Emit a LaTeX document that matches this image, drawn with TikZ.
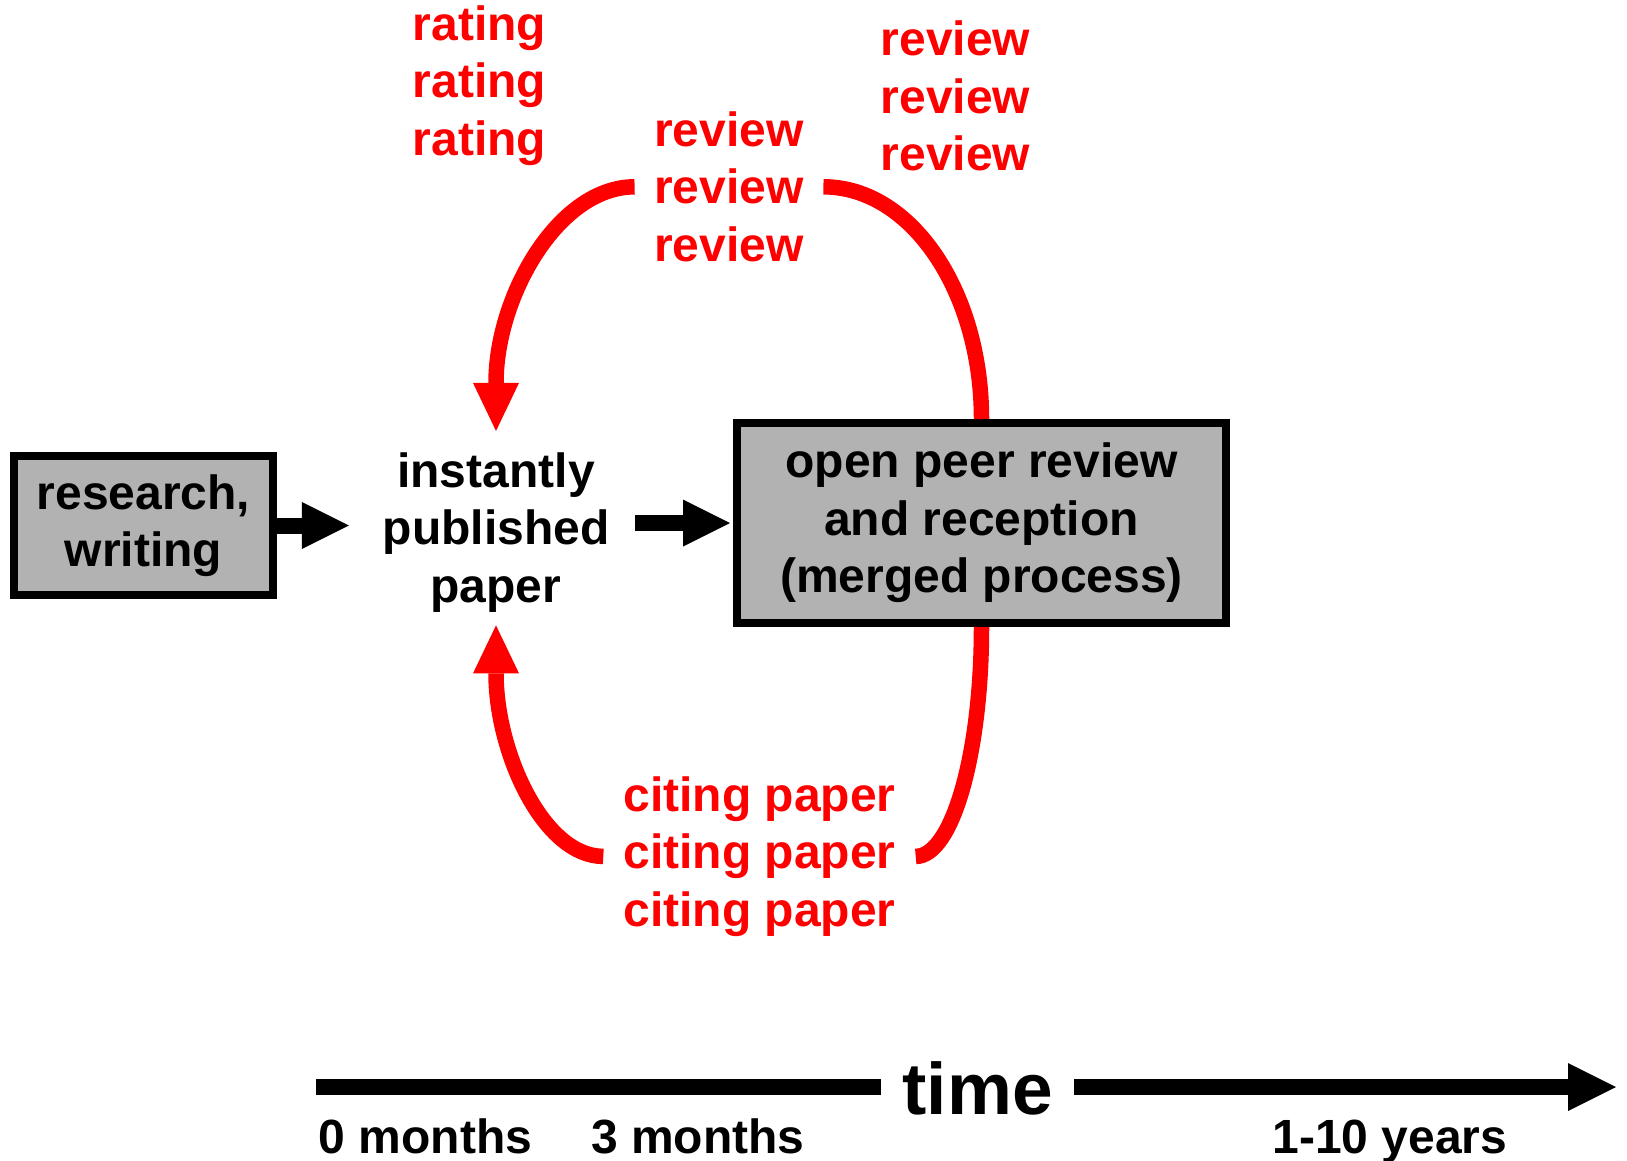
\documentclass[tikz,border=0pt]{standalone}
\usepackage{fontspec}
\setmainfont{Liberation Sans}
\usetikzlibrary{arrows.meta}
\definecolor{boxgray}{RGB}{178,178,178}
\definecolor{pured}{RGB}{255,0,0}
\begin{document}
\begin{tikzpicture}[x=1pt,y=-1pt,
  txt/.style={font=\fontsize{48}{57.5}\selectfont\bfseries, align=center, inner sep=0pt},
  lbl/.style={font=\fontsize{48}{57.5}\selectfont\bfseries, inner sep=0pt},
  redtxt/.style={txt, text=pured},
  procbox/.style={draw=black, fill=boxgray, line width=8pt, txt},
  blackarrow/.style={draw=black, line width=16pt, -{Triangle[length=47pt,width=47pt,line width=0pt]}},
  timearrow/.style={draw=black, line width=16pt, -{Triangle[length=48pt,width=48pt,line width=0pt]}},
  redcurve/.style={draw=pured, line width=15.5pt},
  redarrow/.style={redcurve, -{Triangle[length=48pt,width=46pt,line width=0pt]}}
]
\useasboundingbox (0,0) rectangle (1627,1160);

% nodes
\node[procbox, minimum width=259pt, minimum height=138.3pt] (box1) at (143.5,525.5) {research,\\writing};
\node[procbox, minimum width=489pt, minimum height=200pt] (box2) at (981.5,523) {open peer review\\and reception\\(merged process)};
\node[txt, inner xsep=25.6pt, inner ysep=17pt] (paper) at (496,532.3) {instantly\\published\\paper};
\node[redtxt, inner xsep=19.5pt] (rev) at (729,186.8) {review\\review\\review};
\node[redtxt] (revr) at (955.5,96.3) {review\\review\\review};
\node[redtxt] (rate) at (479.5,85.4) {rating\\rating\\rating};
\node[redtxt, inner xsep=20pt] (cite) at (759.5,856.4) {citing paper\\citing paper\\citing paper};
\node[lbl, font=\fontsize{73}{80}\selectfont\bfseries, inner xsep=21.5pt, anchor=base] (time) at (977.7,1114) {time};
\node[lbl, anchor=base] (m0) at (425.5,1153) {0 months};
\node[lbl, anchor=base] (m3) at (698,1153) {3 months};
\node[lbl, anchor=base] (y10) at (1390,1153) {1-10 years};

% black arrows
\draw[blackarrow] (box1.east) -- ([xshift=-8pt]paper.west |- box1.east);
\draw[blackarrow, shorten >=3pt] (paper.east |- box2.west) -- (box2.west);

% red loops
\draw[redcurve] (box2.north) .. controls +(0,-128.2) and +(87.4,0) .. (rev.east);
\draw[redarrow] (rev.west) .. controls +(-76.1,0) and +(0,-134.9) .. ([yshift=4.3pt]paper.north);
\draw[redcurve] (box2.south) .. controls +(0,126.7) and +(36.5,0) .. (cite.east);
\draw[redarrow] (cite.west) .. controls +(-59.4,0) and +(0,127.8) .. ([yshift=4pt]paper.south);

% time axis
\coordinate (ax0) at (316,1087);
\coordinate (ax1) at (1616,1087);
\draw[line width=16pt] (ax0) -- (ax0 -| time.west);
\draw[timearrow] (ax1 -| time.east) -- (ax1);
\end{tikzpicture}
\end{document}
